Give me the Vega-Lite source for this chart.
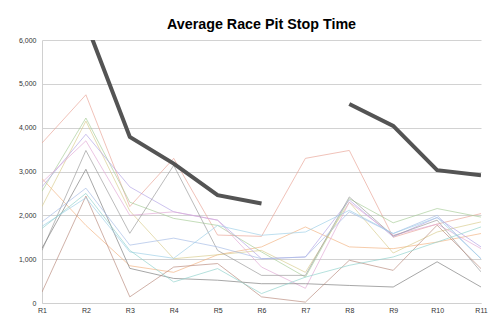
{
  "$schema": "https://vega.github.io/schema/vega-lite/v6.json",
  "autosize": "none",
  "width": 439,
  "height": 263,
  "padding": {"left": 42, "top": 40, "right": 19, "bottom": 30},
  "background": "white",
  "title": {"text": "Average Race Pit Stop Time", "font": "Liberation Sans", "fontSize": 14.3, "fontWeight": "bold", "color": "#000000", "anchor": "middle", "offset": 4},
  "config": {"view": {"stroke": null}},
  "datasets": {
    "teams": [
      {"s":"A","r":"R1","v":3650},{"s":"A","r":"R2","v":4750},{"s":"A","r":"R3","v":2200},{"s":"A","r":"R4","v":3300},{"s":"A","r":"R5","v":1550},{"s":"A","r":"R6","v":1520},{"s":"A","r":"R7","v":3300},{"s":"A","r":"R8","v":3480},{"s":"A","r":"R9","v":1500},{"s":"A","r":"R10","v":1800},{"s":"A","r":"R11","v":2040},
      {"s":"B","r":"R1","v":2840},{"s":"B","r":"R2","v":1770},{"s":"B","r":"R3","v":850},{"s":"B","r":"R4","v":700},{"s":"B","r":"R5","v":1100},{"s":"B","r":"R6","v":1280},{"s":"B","r":"R7","v":1735},{"s":"B","r":"R8","v":1280},{"s":"B","r":"R9","v":1240},{"s":"B","r":"R10","v":1390},{"s":"B","r":"R11","v":1585},
      {"s":"C","r":"R1","v":2550},{"s":"C","r":"R2","v":4220},{"s":"C","r":"R3","v":2300},{"s":"C","r":"R4","v":1930},{"s":"C","r":"R5","v":1770},{"s":"C","r":"R6","v":1165},{"s":"C","r":"R7","v":590},{"s":"C","r":"R8","v":2380},{"s":"C","r":"R9","v":1830},{"s":"C","r":"R10","v":2155},{"s":"C","r":"R11","v":1960},
      {"s":"D","r":"R1","v":2200},{"s":"D","r":"R2","v":4150},{"s":"D","r":"R3","v":2100},{"s":"D","r":"R4","v":1010},{"s":"D","r":"R5","v":1100},{"s":"D","r":"R6","v":1200},{"s":"D","r":"R7","v":700},{"s":"D","r":"R8","v":2300},{"s":"D","r":"R9","v":1140},{"s":"D","r":"R10","v":1620},{"s":"D","r":"R11","v":1850},
      {"s":"E","r":"R1","v":2650},{"s":"E","r":"R2","v":3850},{"s":"E","r":"R3","v":2650},{"s":"E","r":"R4","v":2080},{"s":"E","r":"R5","v":1890},{"s":"E","r":"R6","v":1010},{"s":"E","r":"R7","v":1050},{"s":"E","r":"R8","v":2350},{"s":"E","r":"R9","v":1510},{"s":"E","r":"R10","v":1950},{"s":"E","r":"R11","v":1280},
      {"s":"F","r":"R1","v":2750},{"s":"F","r":"R2","v":3700},{"s":"F","r":"R3","v":2000},{"s":"F","r":"R4","v":2080},{"s":"F","r":"R5","v":1890},{"s":"F","r":"R6","v":820},{"s":"F","r":"R7","v":335},{"s":"F","r":"R8","v":2300},{"s":"F","r":"R9","v":1545},{"s":"F","r":"R10","v":1800},{"s":"F","r":"R11","v":1240},
      {"s":"G","r":"R1","v":1200},{"s":"G","r":"R2","v":3480},{"s":"G","r":"R3","v":1590},{"s":"G","r":"R4","v":3140},{"s":"G","r":"R5","v":1200},{"s":"G","r":"R6","v":630},{"s":"G","r":"R7","v":630},{"s":"G","r":"R8","v":2420},{"s":"G","r":"R9","v":1530},{"s":"G","r":"R10","v":1890},{"s":"G","r":"R11","v":710},
      {"s":"H","r":"R1","v":1250},{"s":"H","r":"R2","v":3050},{"s":"H","r":"R3","v":790},{"s":"H","r":"R4","v":560},{"s":"H","r":"R5","v":520},{"s":"H","r":"R6","v":440},{"s":"H","r":"R7","v":440},{"s":"H","r":"R8","v":400},{"s":"H","r":"R9","v":365},{"s":"H","r":"R10","v":940},{"s":"H","r":"R11","v":365},
      {"s":"I","r":"R1","v":250},{"s":"I","r":"R2","v":2440},{"s":"I","r":"R3","v":140},{"s":"I","r":"R4","v":820},{"s":"I","r":"R5","v":900},{"s":"I","r":"R6","v":140},{"s":"I","r":"R7","v":20},{"s":"I","r":"R8","v":975},{"s":"I","r":"R9","v":745},{"s":"I","r":"R10","v":1775},{"s":"I","r":"R11","v":785},
      {"s":"J","r":"R1","v":1850},{"s":"J","r":"R2","v":2620},{"s":"J","r":"R3","v":1320},{"s":"J","r":"R4","v":1480},{"s":"J","r":"R5","v":1280},{"s":"J","r":"R6","v":1010},{"s":"J","r":"R7","v":1050},{"s":"J","r":"R8","v":2080},{"s":"J","r":"R9","v":1585},{"s":"J","r":"R10","v":2000},{"s":"J","r":"R11","v":1010},
      {"s":"K","r":"R1","v":1750},{"s":"K","r":"R2","v":2400},{"s":"K","r":"R3","v":1165},{"s":"K","r":"R4","v":1020},{"s":"K","r":"R5","v":1770},{"s":"K","r":"R6","v":1545},{"s":"K","r":"R7","v":1620},{"s":"K","r":"R8","v":2115},{"s":"K","r":"R9","v":1585},{"s":"K","r":"R10","v":1950},{"s":"K","r":"R11","v":1010},
      {"s":"L","r":"R1","v":1700},{"s":"L","r":"R2","v":2500},{"s":"L","r":"R3","v":1200},{"s":"L","r":"R4","v":480},{"s":"L","r":"R5","v":785},{"s":"L","r":"R6","v":215},{"s":"L","r":"R7","v":590},{"s":"L","r":"R8","v":860},{"s":"L","r":"R9","v":1050},{"s":"L","r":"R10","v":1390},{"s":"L","r":"R11","v":1735}
    ],
    "avg": [
      {"r":"R2","v":6400},{"r":"R3","v":3790},{"r":"R4","v":3180},{"r":"R5","v":2460},{"r":"R6","v":2270},{"r":"R7","v":null},{"r":"R8","v":4540},{"r":"R9","v":4040},{"r":"R10","v":3030},{"r":"R11","v":2915}
    ]
  },
  "encoding": {
    "x": {"field": "r", "type": "ordinal", "sort": ["R1","R2","R3","R4","R5","R6","R7","R8","R9","R10","R11"],
      "scale": {"type": "point", "padding": 0, "domain": ["R1","R2","R3","R4","R5","R6","R7","R8","R9","R10","R11"]},
      "axis": {"title": null, "labelAngle": 0, "labelFont": "Liberation Sans", "labelFontSize": 7, "labelColor": "#333", "ticks": false, "labelPadding": 3, "domainColor": "#d0d0d0", "domainWidth": 1, "grid": false}},
    "y": {"field": "v", "type": "quantitative",
      "scale": {"domain": [0, 6000], "nice": false},
      "axis": {"title": null, "values": [0,1000,2000,3000,4000,5000,6000], "format": ",d", "labelFont": "Liberation Sans", "labelFontSize": 7, "labelColor": "#333", "ticks": false, "labelPadding": 6, "domainColor": "#d0d0d0", "domainWidth": 1, "gridColor": "#d2d2d2", "gridWidth": 1}}
  },
  "layer": [
    {
      "data": {"name": "teams"},
      "mark": {"type": "line", "strokeWidth": 0.75, "clip": true, "opacity": 0.9},
      "encoding": {
        "color": {"field": "s", "type": "nominal", "legend": null,
          "scale": {"domain": ["A","B","C","D","E","F","G","H","I","J","K","L"],
            "range": ["#e9a597","#f2b483","#a8cd98","#d9cc8f","#b3a5e6","#e2a9d6","#9a9a9a","#7c7c7c","#b98b7e","#a6bce6","#9fcfe8","#92d2cc"]}}
      }
    },
    {
      "data": {"name": "avg"},
      "mark": {"type": "line", "strokeWidth": 4, "color": "#545454", "clip": true, "invalid": "break-paths-show-domains"},
      "encoding": {}
    }
  ]
}
